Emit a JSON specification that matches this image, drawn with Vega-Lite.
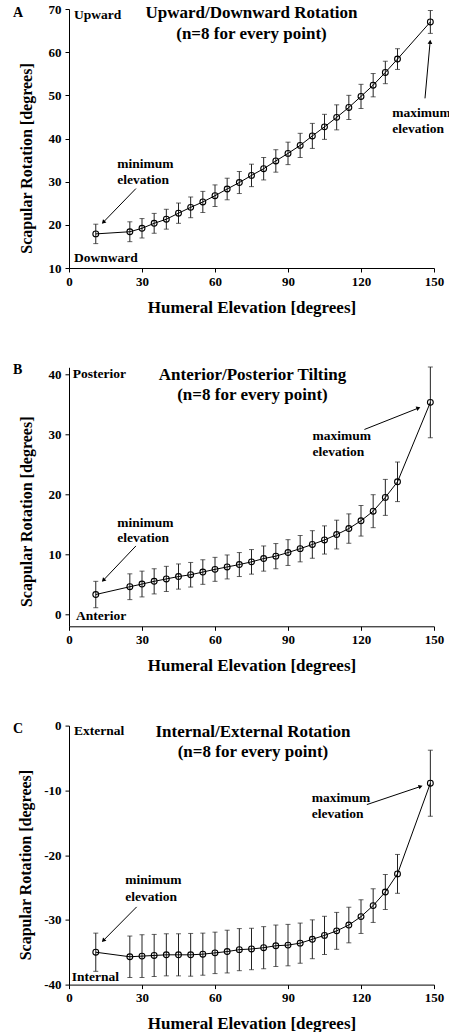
{
  "$schema": "https://vega.github.io/schema/vega-lite/v6.json",
  "padding": {"left": 13, "top": 3, "right": 0, "bottom": 0},
  "background": "white",
  "spacing": 99.3,
  "bounds": "flush",
  "datasets": {
    "A": [
      {"x": 11, "m": 17.9, "sd": 2.25}, {"x": 25, "m": 18.4, "sd": 2.3}, {"x": 30, "m": 19.2, "sd": 2.25},
      {"x": 35, "m": 20.35, "sd": 2.3}, {"x": 40, "m": 21.3, "sd": 2.3}, {"x": 45, "m": 22.7, "sd": 2.35},
      {"x": 50, "m": 24.05, "sd": 2.4}, {"x": 55, "m": 25.3, "sd": 2.45}, {"x": 60, "m": 26.75, "sd": 2.5},
      {"x": 65, "m": 28.3, "sd": 2.5}, {"x": 70, "m": 29.8, "sd": 2.55}, {"x": 75, "m": 31.45, "sd": 2.6},
      {"x": 80, "m": 33.0, "sd": 2.6}, {"x": 85, "m": 34.8, "sd": 2.6}, {"x": 90, "m": 36.55, "sd": 2.6},
      {"x": 95, "m": 38.4, "sd": 2.8}, {"x": 100, "m": 40.6, "sd": 2.9}, {"x": 105, "m": 42.7, "sd": 2.9},
      {"x": 110, "m": 44.9, "sd": 2.9}, {"x": 115, "m": 47.2, "sd": 2.8}, {"x": 120, "m": 49.75, "sd": 2.8},
      {"x": 125, "m": 52.35, "sd": 2.7}, {"x": 130, "m": 55.3, "sd": 2.6}, {"x": 135, "m": 58.4, "sd": 2.4},
      {"x": 148.5, "m": 67.0, "sd": 2.65}
    ],
    "B": [
      {"x": 11, "m": 3.3, "sd": 2.2}, {"x": 25, "m": 4.6, "sd": 2.15}, {"x": 30, "m": 5.05, "sd": 2.15},
      {"x": 35, "m": 5.5, "sd": 2.1}, {"x": 40, "m": 5.9, "sd": 2.1}, {"x": 45, "m": 6.3, "sd": 2.1},
      {"x": 50, "m": 6.6, "sd": 2.05}, {"x": 55, "m": 7.05, "sd": 2.05}, {"x": 60, "m": 7.5, "sd": 2.0},
      {"x": 65, "m": 7.9, "sd": 2.0}, {"x": 70, "m": 8.3, "sd": 2.0}, {"x": 75, "m": 8.75, "sd": 2.05},
      {"x": 80, "m": 9.3, "sd": 2.1}, {"x": 85, "m": 9.7, "sd": 2.1}, {"x": 90, "m": 10.3, "sd": 2.15},
      {"x": 95, "m": 10.95, "sd": 2.2}, {"x": 100, "m": 11.65, "sd": 2.3}, {"x": 105, "m": 12.4, "sd": 2.35},
      {"x": 110, "m": 13.3, "sd": 2.4}, {"x": 115, "m": 14.3, "sd": 2.45}, {"x": 120, "m": 15.6, "sd": 2.55},
      {"x": 125, "m": 17.2, "sd": 2.75}, {"x": 130, "m": 19.5, "sd": 3.0}, {"x": 135, "m": 22.1, "sd": 3.3},
      {"x": 148.5, "m": 35.35, "sd": 5.9}
    ],
    "C": [
      {"x": 11, "m": -35.0, "sd": 2.95}, {"x": 25, "m": -35.7, "sd": 3.2}, {"x": 30, "m": -35.6, "sd": 3.3},
      {"x": 35, "m": -35.5, "sd": 3.25}, {"x": 40, "m": -35.4, "sd": 3.25}, {"x": 45, "m": -35.4, "sd": 3.25},
      {"x": 50, "m": -35.4, "sd": 3.3}, {"x": 55, "m": -35.3, "sd": 3.25}, {"x": 60, "m": -35.1, "sd": 3.2},
      {"x": 65, "m": -34.9, "sd": 3.3}, {"x": 70, "m": -34.6, "sd": 3.25}, {"x": 75, "m": -34.5, "sd": 3.2},
      {"x": 80, "m": -34.3, "sd": 3.25}, {"x": 85, "m": -34.0, "sd": 3.2}, {"x": 90, "m": -33.9, "sd": 3.2},
      {"x": 95, "m": -33.6, "sd": 3.1}, {"x": 100, "m": -33.0, "sd": 3.0}, {"x": 105, "m": -32.4, "sd": 2.95},
      {"x": 110, "m": -31.7, "sd": 2.85}, {"x": 115, "m": -30.8, "sd": 2.75}, {"x": 120, "m": -29.5, "sd": 2.6},
      {"x": 125, "m": -27.8, "sd": 2.6}, {"x": 130, "m": -25.7, "sd": 2.7}, {"x": 135, "m": -22.9, "sd": 3.0},
      {"x": 148.5, "m": -8.9, "sd": 5.1}
    ],
    "nA": [
      {"role": "tag", "x": -23, "y": 69.0, "t": "A"},
      {"role": "title", "x": 75, "y": 69.0, "t": "Upward/Downward Rotation"},
      {"role": "title", "x": 75, "y": 64.2, "t": "(n=8 for every point)"},
      {"role": "note", "x": 2.05, "y": 68.6, "t": "Upward"},
      {"role": "note", "x": 2.05, "y": 12.4, "t": "Downward"},
      {"role": "note", "x": 19.85, "y": 34.2, "t": "minimum"},
      {"role": "note", "x": 19.85, "y": 30.5, "t": "elevation"},
      {"role": "note", "x": 132.8, "y": 45.8, "t": "maximum"},
      {"role": "note", "x": 132.8, "y": 42.3, "t": "elevation"}
    ],
    "nB": [
      {"role": "tag", "x": -23, "y": 40.8, "t": "B"},
      {"role": "title", "x": 75.4, "y": 39.95, "t": "Anterior/Posterior Tilting"},
      {"role": "title", "x": 75.4, "y": 36.6, "t": "(n=8 for every point)"},
      {"role": "note", "x": 1.5, "y": 40.1, "t": "Posterior"},
      {"role": "note", "x": 2.9, "y": -0.33, "t": "Anterior"},
      {"role": "note", "x": 19.85, "y": 15.3, "t": "minimum"},
      {"role": "note", "x": 19.85, "y": 12.67, "t": "elevation"},
      {"role": "note", "x": 100.1, "y": 29.7, "t": "maximum"},
      {"role": "note", "x": 100.1, "y": 27.05, "t": "elevation"}
    ],
    "nC": [
      {"role": "tag", "x": -23, "y": -0.5, "t": "C"},
      {"role": "title", "x": 75.6, "y": -1.0, "t": "Internal/External Rotation"},
      {"role": "title", "x": 75.6, "y": -4.15, "t": "(n=8 for every point)"},
      {"role": "note", "x": 2.05, "y": -0.8, "t": "External"},
      {"role": "note", "x": 1.1, "y": -38.8, "t": "Internal"},
      {"role": "note", "x": 23.1, "y": -23.9, "t": "minimum"},
      {"role": "note", "x": 23.1, "y": -26.4, "t": "elevation"},
      {"role": "note", "x": 99.75, "y": -11.2, "t": "maximum"},
      {"role": "note", "x": 99.75, "y": -13.7, "t": "elevation"}
    ],
    "aA": [
      {"end": "min", "x": 27.5, "y": 28.4, "x2": 14.1, "y2": 20.6},
      {"end": "max", "x": 146.3, "y": 49.3, "x2": 148.4, "y2": 62.4}
    ],
    "aB": [
      {"end": "min", "x": 27.5, "y": 11.4, "x2": 14.1, "y2": 5.67},
      {"end": "max", "x": 121.4, "y": 30.83, "x2": 143.6, "y2": 34.4}
    ],
    "aC": [
      {"end": "min", "x": 27.8, "y": -28.0, "x2": 14.1, "y2": -33.2},
      {"end": "max", "x": 122.4, "y": -12.2, "x2": 144.5, "y2": -9.4}
    ]
  },
  "vconcat": [
    {
      "width": 365, "height": 259,
      "layer": [
        {"data": {"name": "A"}, "mark": {"type": "errorbar", "ticks": {"size": 5}, "color": "#222", "thickness": 1},
         "encoding": {
           "x": {"field": "x", "type": "quantitative", "title": "Humeral Elevation [degrees]", "scale": {"domain": [0, 150], "nice": false}, "axis": {"values": [0, 30, 60, 90, 120, 150]}},
           "y": {"field": "m", "type": "quantitative", "title": "Scapular Rotation [degrees]", "scale": {"domain": [10, 70], "nice": false, "zero": false}, "axis": {"values": [10, 20, 30, 40, 50, 60, 70], "titlePadding": 14, "titleY": 149}},
           "yError": {"field": "sd"}}},
        {"data": {"name": "A"}, "mark": {"type": "line", "color": "#000", "strokeWidth": 1},
         "encoding": {"x": {"field": "x", "type": "quantitative", "title": "Humeral Elevation [degrees]"}, "y": {"field": "m", "type": "quantitative", "title": "Scapular Rotation [degrees]"}}},
        {"data": {"name": "A"}, "mark": {"type": "point", "shape": "circle", "filled": false, "color": "#000", "size": 34, "strokeWidth": 1.1, "opacity": 1},
         "encoding": {"x": {"field": "x", "type": "quantitative", "title": "Humeral Elevation [degrees]"}, "y": {"field": "m", "type": "quantitative", "title": "Scapular Rotation [degrees]"}}},
        {"data": {"name": "nA"}, "transform": [{"filter": "datum.role === 'note'"}],
         "mark": {"type": "text", "align": "left", "baseline": "middle", "font": "Liberation Serif", "fontWeight": "bold", "fontSize": 13.5, "color": "#000"},
         "encoding": {"x": {"field": "x", "type": "quantitative", "title": "Humeral Elevation [degrees]"}, "y": {"field": "y", "type": "quantitative", "title": "Scapular Rotation [degrees]"}, "text": {"field": "t"}}},
        {"data": {"name": "nA"}, "transform": [{"filter": "datum.role === 'title'"}],
         "mark": {"type": "text", "align": "center", "baseline": "middle", "font": "Liberation Serif", "fontWeight": "bold", "fontSize": 17, "color": "#000"},
         "encoding": {"x": {"field": "x", "type": "quantitative", "title": "Humeral Elevation [degrees]"}, "y": {"field": "y", "type": "quantitative", "title": "Scapular Rotation [degrees]"}, "text": {"field": "t"}}},
        {"data": {"name": "nA"}, "transform": [{"filter": "datum.role === 'tag'"}],
         "mark": {"type": "text", "align": "left", "baseline": "middle", "font": "Liberation Serif", "fontWeight": "bold", "fontSize": 14, "color": "#000"},
         "encoding": {"x": {"field": "x", "type": "quantitative", "title": "Humeral Elevation [degrees]"}, "y": {"field": "y", "type": "quantitative", "title": "Scapular Rotation [degrees]"}, "text": {"field": "t"}}},
        {"data": {"name": "aA"}, "mark": {"type": "rule", "color": "#000", "strokeWidth": 1},
         "encoding": {"x": {"field": "x", "type": "quantitative", "title": "Humeral Elevation [degrees]"}, "y": {"field": "y", "type": "quantitative", "title": "Scapular Rotation [degrees]"}, "x2": {"field": "x2"}, "y2": {"field": "y2"}}},
        {"data": {"name": "aA"}, "transform": [{"filter": "datum.end === 'min'"}],
         "mark": {"type": "point", "shape": "triangle-up", "filled": true, "color": "#000", "size": 22, "angle": 224, "opacity": 1},
         "encoding": {"x": {"field": "x2", "type": "quantitative", "title": "Humeral Elevation [degrees]"}, "y": {"field": "y2", "type": "quantitative", "title": "Scapular Rotation [degrees]"}}},
        {"data": {"name": "aA"}, "transform": [{"filter": "datum.end === 'max'"}],
         "mark": {"type": "point", "shape": "triangle-up", "filled": true, "color": "#000", "size": 22, "angle": 5, "opacity": 1},
         "encoding": {"x": {"field": "x2", "type": "quantitative", "title": "Humeral Elevation [degrees]"}, "y": {"field": "y2", "type": "quantitative", "title": "Scapular Rotation [degrees]"}}}
      ]
    },
    {
      "width": 365, "height": 259,
      "layer": [
        {"data": {"name": "B"}, "mark": {"type": "errorbar", "ticks": {"size": 5}, "color": "#222", "thickness": 1},
         "encoding": {
           "x": {"field": "x", "type": "quantitative", "title": "Humeral Elevation [degrees]", "scale": {"domain": [0, 150], "nice": false}, "axis": {"values": [0, 30, 60, 90, 120, 150]}},
           "y": {"field": "m", "type": "quantitative", "title": "Scapular Rotation [degrees]", "scale": {"domain": [-2, 41.2], "nice": false, "zero": false}, "axis": {"values": [0, 10, 20, 30, 40], "titlePadding": 14, "titleY": 144}},
           "yError": {"field": "sd"}}},
        {"data": {"name": "B"}, "mark": {"type": "line", "color": "#000", "strokeWidth": 1},
         "encoding": {"x": {"field": "x", "type": "quantitative", "title": "Humeral Elevation [degrees]"}, "y": {"field": "m", "type": "quantitative", "title": "Scapular Rotation [degrees]"}}},
        {"data": {"name": "B"}, "mark": {"type": "point", "shape": "circle", "filled": false, "color": "#000", "size": 34, "strokeWidth": 1.1, "opacity": 1},
         "encoding": {"x": {"field": "x", "type": "quantitative", "title": "Humeral Elevation [degrees]"}, "y": {"field": "m", "type": "quantitative", "title": "Scapular Rotation [degrees]"}}},
        {"data": {"name": "nB"}, "transform": [{"filter": "datum.role === 'note'"}],
         "mark": {"type": "text", "align": "left", "baseline": "middle", "font": "Liberation Serif", "fontWeight": "bold", "fontSize": 13.5, "color": "#000"},
         "encoding": {"x": {"field": "x", "type": "quantitative", "title": "Humeral Elevation [degrees]"}, "y": {"field": "y", "type": "quantitative", "title": "Scapular Rotation [degrees]"}, "text": {"field": "t"}}},
        {"data": {"name": "nB"}, "transform": [{"filter": "datum.role === 'title'"}],
         "mark": {"type": "text", "align": "center", "baseline": "middle", "font": "Liberation Serif", "fontWeight": "bold", "fontSize": 17, "color": "#000"},
         "encoding": {"x": {"field": "x", "type": "quantitative", "title": "Humeral Elevation [degrees]"}, "y": {"field": "y", "type": "quantitative", "title": "Scapular Rotation [degrees]"}, "text": {"field": "t"}}},
        {"data": {"name": "nB"}, "transform": [{"filter": "datum.role === 'tag'"}],
         "mark": {"type": "text", "align": "left", "baseline": "middle", "font": "Liberation Serif", "fontWeight": "bold", "fontSize": 14, "color": "#000"},
         "encoding": {"x": {"field": "x", "type": "quantitative", "title": "Humeral Elevation [degrees]"}, "y": {"field": "y", "type": "quantitative", "title": "Scapular Rotation [degrees]"}, "text": {"field": "t"}}},
        {"data": {"name": "aB"}, "mark": {"type": "rule", "color": "#000", "strokeWidth": 1},
         "encoding": {"x": {"field": "x", "type": "quantitative", "title": "Humeral Elevation [degrees]"}, "y": {"field": "y", "type": "quantitative", "title": "Scapular Rotation [degrees]"}, "x2": {"field": "x2"}, "y2": {"field": "y2"}}},
        {"data": {"name": "aB"}, "transform": [{"filter": "datum.end === 'min'"}],
         "mark": {"type": "point", "shape": "triangle-up", "filled": true, "color": "#000", "size": 22, "angle": 224, "opacity": 1},
         "encoding": {"x": {"field": "x2", "type": "quantitative", "title": "Humeral Elevation [degrees]"}, "y": {"field": "y2", "type": "quantitative", "title": "Scapular Rotation [degrees]"}}},
        {"data": {"name": "aB"}, "transform": [{"filter": "datum.end === 'max'"}],
         "mark": {"type": "point", "shape": "triangle-up", "filled": true, "color": "#000", "size": 22, "angle": 69, "opacity": 1},
         "encoding": {"x": {"field": "x2", "type": "quantitative", "title": "Humeral Elevation [degrees]"}, "y": {"field": "y2", "type": "quantitative", "title": "Scapular Rotation [degrees]"}}}
      ]
    },
    {
      "width": 365, "height": 259,
      "layer": [
        {"data": {"name": "C"}, "mark": {"type": "errorbar", "ticks": {"size": 5}, "color": "#222", "thickness": 1},
         "encoding": {
           "x": {"field": "x", "type": "quantitative", "title": "Humeral Elevation [degrees]", "scale": {"domain": [0, 150], "nice": false}, "axis": {"values": [0, 30, 60, 90, 120, 150]}},
           "y": {"field": "m", "type": "quantitative", "title": "Scapular Rotation [degrees]", "scale": {"domain": [-40, 0], "nice": false, "zero": false}, "axis": {"values": [-40, -30, -20, -10, 0], "labelExpr": "'' + datum.value", "titlePadding": 10, "titleY": 139}},
           "yError": {"field": "sd"}}},
        {"data": {"name": "C"}, "mark": {"type": "line", "color": "#000", "strokeWidth": 1},
         "encoding": {"x": {"field": "x", "type": "quantitative", "title": "Humeral Elevation [degrees]"}, "y": {"field": "m", "type": "quantitative", "title": "Scapular Rotation [degrees]"}}},
        {"data": {"name": "C"}, "mark": {"type": "point", "shape": "circle", "filled": false, "color": "#000", "size": 34, "strokeWidth": 1.1, "opacity": 1},
         "encoding": {"x": {"field": "x", "type": "quantitative", "title": "Humeral Elevation [degrees]"}, "y": {"field": "m", "type": "quantitative", "title": "Scapular Rotation [degrees]"}}},
        {"data": {"name": "nC"}, "transform": [{"filter": "datum.role === 'note'"}],
         "mark": {"type": "text", "align": "left", "baseline": "middle", "font": "Liberation Serif", "fontWeight": "bold", "fontSize": 13.5, "color": "#000"},
         "encoding": {"x": {"field": "x", "type": "quantitative", "title": "Humeral Elevation [degrees]"}, "y": {"field": "y", "type": "quantitative", "title": "Scapular Rotation [degrees]"}, "text": {"field": "t"}}},
        {"data": {"name": "nC"}, "transform": [{"filter": "datum.role === 'title'"}],
         "mark": {"type": "text", "align": "center", "baseline": "middle", "font": "Liberation Serif", "fontWeight": "bold", "fontSize": 17, "color": "#000"},
         "encoding": {"x": {"field": "x", "type": "quantitative", "title": "Humeral Elevation [degrees]"}, "y": {"field": "y", "type": "quantitative", "title": "Scapular Rotation [degrees]"}, "text": {"field": "t"}}},
        {"data": {"name": "nC"}, "transform": [{"filter": "datum.role === 'tag'"}],
         "mark": {"type": "text", "align": "left", "baseline": "middle", "font": "Liberation Serif", "fontWeight": "bold", "fontSize": 14, "color": "#000"},
         "encoding": {"x": {"field": "x", "type": "quantitative", "title": "Humeral Elevation [degrees]"}, "y": {"field": "y", "type": "quantitative", "title": "Scapular Rotation [degrees]"}, "text": {"field": "t"}}},
        {"data": {"name": "aC"}, "mark": {"type": "rule", "color": "#000", "strokeWidth": 1},
         "encoding": {"x": {"field": "x", "type": "quantitative", "title": "Humeral Elevation [degrees]"}, "y": {"field": "y", "type": "quantitative", "title": "Scapular Rotation [degrees]"}, "x2": {"field": "x2"}, "y2": {"field": "y2"}}},
        {"data": {"name": "aC"}, "transform": [{"filter": "datum.end === 'min'"}],
         "mark": {"type": "point", "shape": "triangle-up", "filled": true, "color": "#000", "size": 22, "angle": 224, "opacity": 1},
         "encoding": {"x": {"field": "x2", "type": "quantitative", "title": "Humeral Elevation [degrees]"}, "y": {"field": "y2", "type": "quantitative", "title": "Scapular Rotation [degrees]"}}},
        {"data": {"name": "aC"}, "transform": [{"filter": "datum.end === 'max'"}],
         "mark": {"type": "point", "shape": "triangle-up", "filled": true, "color": "#000", "size": 22, "angle": 71, "opacity": 1},
         "encoding": {"x": {"field": "x2", "type": "quantitative", "title": "Humeral Elevation [degrees]"}, "y": {"field": "y2", "type": "quantitative", "title": "Scapular Rotation [degrees]"}}}
      ]
    }
  ],
  "config": {
    "view": {"stroke": null},
    "font": "Liberation Serif",
    "axis": {"grid": false, "domainColor": "#000", "tickColor": "#000", "labelColor": "#000", "titleColor": "#000",
             "labelFont": "Liberation Serif", "labelFontWeight": "bold", "labelFontSize": 13,
             "titleFont": "Liberation Serif", "titleFontWeight": "bold", "tickSize": 4,
             "labelFlush": false, "labelOverlap": false, "domainWidth": 1, "tickWidth": 1},
    "axisX": {"labelPadding": 3, "titlePadding": 11, "titleFontSize": 17},
    "axisY": {"labelPadding": 4, "titleFontSize": 16}
  }
}
